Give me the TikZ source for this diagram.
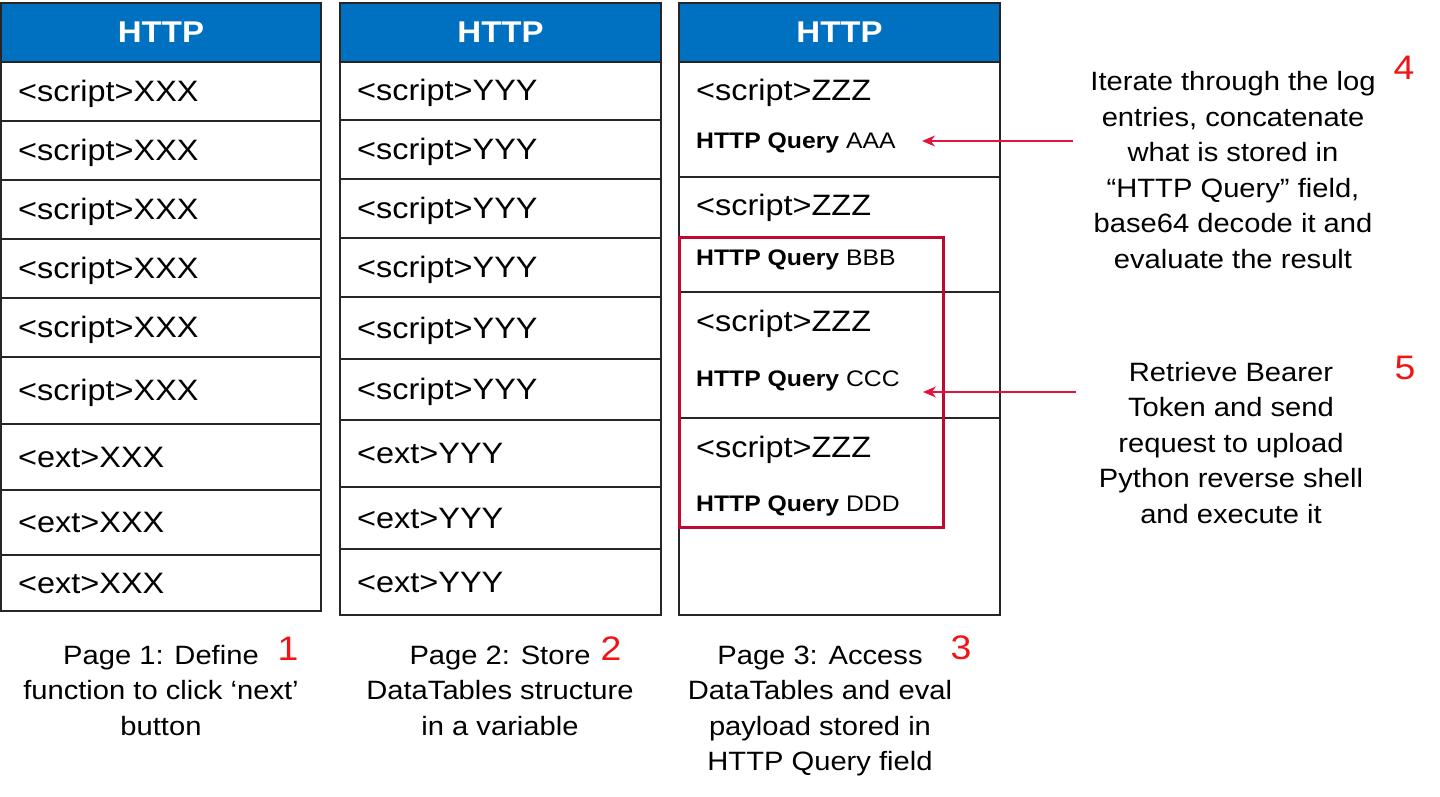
\documentclass[tikz,border=0pt]{standalone}
\usepackage{fontspec}
\setmainfont{Liberation Sans}[FakeStretch=1.1]
\usetikzlibrary{arrows.meta}
\definecolor{hdrblue}{RGB}{0,112,192}
\definecolor{boxred}{RGB}{190,10,50}
\definecolor{arrred}{RGB}{225,20,60}
\definecolor{numred}{RGB}{240,20,20}
\begin{document}
\begin{tikzpicture}[x=1pt,y=-1pt,
  cellbox/.style={draw=black!85, line width=1.6pt, inner sep=0pt, outer sep=0pt},
  hdr/.style={cellbox, fill=hdrblue, minimum height=59pt, text=white,
    font=\fontsize{30}{36}\selectfont\bfseries},
  celltext/.style={anchor=base west, inner sep=0pt, font=\fontsize{29.5}{35}\selectfont},
  qtext/.style={anchor=base west, inner sep=0pt, font=\fontsize{22.5}{27}\selectfont},
  caption/.style={align=center, inner sep=0pt, font=\fontsize{26.5}{35.5}\selectfont},
  num/.style={inner sep=0pt, text=numred, font=\fontsize{34}{40}\selectfont},
  conn/.style={draw=arrred, line width=1.5pt, -{Stealth[length=13pt,width=11pt]}},
  redbox/.style={draw=boxred, line width=3pt}
]
\useasboundingbox (0,0) rectangle (1440,797);
% ---------- column 1 ----------
\node[hdr, minimum width=320pt] (h1) at (161,32.5) {HTTP};
\foreach \ya/\yb/\t [count=\i] in {62/121/{<script>XXX},121/180/{<script>XXX},180/239/{<script>XXX},239/298/{<script>XXX},298/357/{<script>XXX},357/424/{<script>XXX},424/490/{<ext>XXX},490/555/{<ext>XXX},555/611/{<ext>XXX}}{
  \node[cellbox, minimum width=320pt, minimum height={(\yb-\ya)*1pt}] (c1r\i) at (161,{(\ya+\yb)/2}) {};
  \node[celltext] (t1r\i) at (18,{(\ya+\yb)/2+10}) {\t};
}
% ---------- column 2 ----------
\node[hdr, minimum width=321pt] (h2) at (500.5,32.5) {HTTP};
\foreach \ya/\yb/\t [count=\i] in {62/120/{<script>YYY},120/179/{<script>YYY},179/238/{<script>YYY},238/297/{<script>YYY},297/359/{<script>YYY},359/420/{<script>YYY},420/487/{<ext>YYY},487/549/{<ext>YYY},549/615/{<ext>YYY}}{
  \node[cellbox, minimum width=321pt, minimum height={(\yb-\ya)*1pt}] (c2r\i) at (500.5,{(\ya+\yb)/2}) {};
  \node[celltext] (t2r\i) at (357,{(\ya+\yb)/2+10}) {\t};
}
% ---------- column 3 ----------
\node[hdr, minimum width=321pt] (h3) at (839.5,32.5) {HTTP};
\foreach \ya/\yb [count=\i] in {62/177,177/292,292/418,418/615}{
  \node[cellbox, minimum width=321pt, minimum height={(\yb-\ya)*1pt}] (c3r\i) at (839.5,{(\ya+\yb)/2}) {};
}
\foreach \ys/\yq/\q [count=\i] in {101/148.5/AAA,215/265.5/BBB,331/386.5/CCC,457/511.5/DDD}{
  \node[celltext] (s3r\i) at (696,\ys) {<script>ZZZ};
  \node[qtext] (q3r\i) at (696,\yq) {\textbf{HTTP Query} \q};
}
% red highlight box
\draw[redbox] (679,237) rectangle (943,527);
% ---------- captions ----------
\node[caption] (cap1) at (161,690.5) {Page 1: Define\\function to click ‘next’\\button};
\node[caption] (cap2) at (500,690.5) {Page 2: Store\\DataTables structure\\in a variable};
\node[caption] (cap3) at (820,711) {Page 3: Access\\DataTables and eval\\payload stored in\\HTTP Query field};
\node[caption] (note4) at (1233,170) {Iterate through the log\\entries, concatenate\\what is stored in\\“HTTP Query” field,\\base64 decode it and\\evaluate the result};
\node[caption] (note5) at (1231,443) {Retrieve Bearer\\Token and send\\request to upload\\Python reverse shell\\and execute it};
% ---------- numbers ----------
\node[num] (n1) at (288,649) {1};
\node[num] (n2) at (611,649) {2};
\node[num] (n3) at (961,648) {3};
\node[num] (n4) at (1404,68) {4};
\node[num] (n5) at (1405,368) {5};
% ---------- arrows ----------
\coordinate (a4s) at (1073,141);
\coordinate (a4e) at (922,141);
\coordinate (a5s) at (1076,392);
\coordinate (a5e) at (923,392);
\draw[conn] (a4s) -- (a4e);
\draw[conn] (a5s) -- (a5e);
\end{tikzpicture}
\end{document}
